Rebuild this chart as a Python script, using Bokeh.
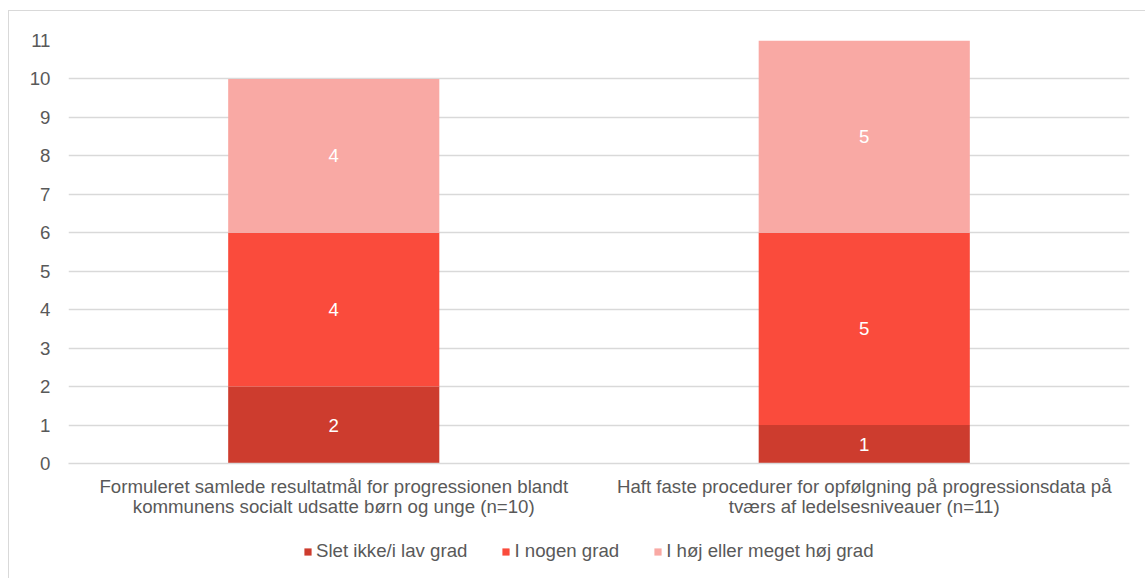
from bokeh.plotting import figure
from bokeh.models import (ColumnDataSource, Range1d, FactorRange, SingleIntervalTicker,
                          LabelSet, Legend, LegendItem)
from bokeh.layouts import column
from bokeh.core.properties import value
from bokeh.embed import file_html
from bokeh.resources import INLINE

categories = [
    "Formuleret samlede resultatmål for progressionen blandt\nkommunens socialt udsatte børn og unge (n=10)",
    "Haft faste procedurer for opfølgning på progressionsdata på\ntværs af ledelsesniveauer (n=11)",
]
series_names = ["Slet ikke/i lav grad", "I nogen grad", "I høj eller meget høj grad"]
low = [2, 1]
some = [4, 5]
high = [4, 5]
colors = ["#CD3C2E", "#FA4B3C", "#F9A9A4"]

FONT = "Liberation Sans"
FS = "18.67px"
TXT = "#595959"

keys = ["low", "some", "high"]
data = {"cat": categories, "low": low, "some": some, "high": high}
source = ColumnDataSource(data)

p = figure(x_range=FactorRange(*categories, range_padding=0),
           y_range=Range1d(0, 11),
           width=1136, height=515, output_backend="svg", toolbar_location=None,
           min_border_left=59, min_border_right=16, min_border_top=29, min_border_bottom=63)

renderers = p.vbar_stack(keys, x="cat", width=0.398, source=source, color=colors,
                         line_color=None)

# data labels at segment midpoints
lab_x, lab_y, lab_t = [], [], []
for i, c in enumerate(categories):
    base = 0
    for arr in (low, some, high):
        v = arr[i]
        lab_x.append(c)
        lab_y.append(base + v / 2)
        lab_t.append(str(v))
        base += v
lsrc = ColumnDataSource(dict(x=lab_x, y=lab_y, t=lab_t))
labels = LabelSet(x="x", y="y", text="t", source=lsrc, text_align="center",
                  text_baseline="middle", text_color="white", text_font=value(FONT),
                  text_font_size=FS)
p.add_layout(labels)

# axes
p.yaxis.ticker = SingleIntervalTicker(interval=1)
p.yaxis.axis_line_color = None
p.yaxis.major_tick_line_color = None
p.yaxis.minor_tick_line_color = None
p.yaxis.major_label_text_font = FONT
p.yaxis.major_label_text_font_size = FS
p.yaxis.major_label_text_color = TXT
p.yaxis.major_label_standoff = 12

p.xaxis.axis_line_color = "#d9d9d9"
p.xaxis.axis_line_width = 1.5
p.xaxis.major_tick_line_color = None
p.xaxis.minor_tick_line_color = None
p.xaxis.major_label_text_font = FONT
p.xaxis.major_label_text_font_size = FS
p.xaxis.major_label_text_color = TXT
p.xaxis.major_label_text_line_height = 0.96
p.xaxis.major_label_standoff = 6

p.xgrid.grid_line_color = None
p.ygrid.grid_line_color = "#d9d9d9"
p.ygrid.grid_line_width = 1.5
p.outline_line_color = None

# legend strip (same stacked bars, kept far outside its visible y-range)
lg = figure(width=1136, height=52, output_backend="svg", toolbar_location=None,
            x_range=FactorRange(*categories, range_padding=0), y_range=Range1d(1000, 1001),
            x_axis_type=None, y_axis_type=None,
            min_border_left=0, min_border_right=0, min_border_top=0, min_border_bottom=0)
lg.grid.visible = False
lg.outline_line_color = None
lg_renderers = lg.vbar_stack(keys, x="cat", width=0.398, source=source, color=colors,
                             line_color=None)
legend = Legend(items=[LegendItem(label=n, renderers=[r]) for n, r in zip(series_names, lg_renderers)],
                orientation="horizontal", location=(235, 16),
                glyph_width=9, glyph_height=9, label_standoff=4, spacing=34,
                label_text_font=FONT, label_text_font_size=FS, label_text_color=TXT,
                border_line_color=None, background_fill_alpha=0, padding=0, margin=0)
lg.add_layout(legend)

layout = column(p, lg, spacing=0, margin=(10, 0, 0, 8),
                styles={"border-left": "1px solid #d9d9d9", "border-top": "1px solid #d9d9d9"})

open("out.html", "w").write(file_html(layout, INLINE))
